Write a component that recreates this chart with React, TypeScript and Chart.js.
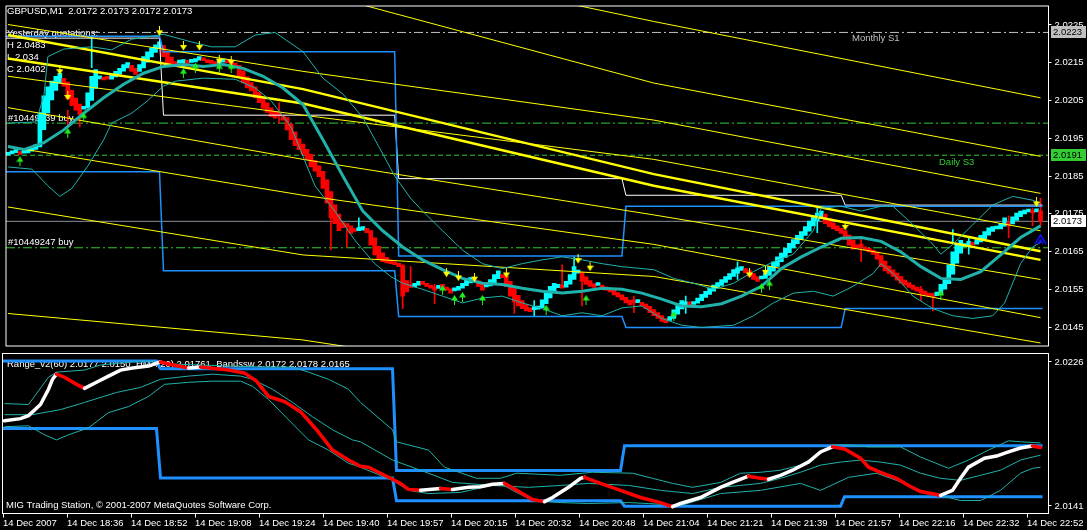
import React, { useEffect, useRef } from 'react';
import { Chart, registerables } from 'chart.js';
Chart.register(...registerables);

// ---------------- data ----------------
const xTickLabels = ['14 Dec 2007', '14 Dec 18:36', '14 Dec 18:52', '14 Dec 19:08', '14 Dec 19:24', '14 Dec 19:40', '14 Dec 19:57', '14 Dec 20:15', '14 Dec 20:32', '14 Dec 20:48', '14 Dec 21:04', '14 Dec 21:21', '14 Dec 21:39', '14 Dec 21:57', '14 Dec 22:16', '14 Dec 22:32', '14 Dec 22:52'];
const mainTickValues = [2.0145, 2.0155, 2.0165, 2.0175, 2.0185, 2.0195, 2.0205, 2.0215, 2.0225];
const lowerTickValues = [2.02215, 2.0145];
const lowerTickLabels = ['2.0226', '2.0141'];

const firstOpen = 2.01905;
const closes = [
  2.01912, 2.01915, 2.01917, 2.01907, 2.01912, 2.0192, 2.01925, 2.01933, 2.02018, 2.02062,
  2.02086, 2.02101, 2.02114, 2.02122, 2.02088, 2.02055, 2.02036, 2.02024, 2.02013, 2.02034,
  2.0207, 2.02114, 2.02132, 2.02109, 2.02104, 2.02106, 2.02119, 2.02127, 2.02135, 2.02145,
  2.0215, 2.02127, 2.02119, 2.02145, 2.02166, 2.02179, 2.02189, 2.02197, 2.02205, 2.02166,
  2.02148, 2.0214, 2.02145, 2.0215, 2.02158, 2.02148, 2.02153, 2.02161, 2.02166, 2.02155,
  2.0215, 2.02148, 2.02145, 2.02155, 2.02158, 2.0215, 2.02145, 2.02137, 2.02114, 2.02096,
  2.02083, 2.02075, 2.02057, 2.02044, 2.02029, 2.02018, 2.02008, 2.02003, 2.02011, 2.01998,
  2.01972, 2.01946, 2.0193, 2.0192, 2.01907, 2.01894, 2.01874, 2.01863, 2.01848, 2.01817,
  2.01778, 2.01739, 2.01724, 2.01705, 2.01713, 2.01716, 2.01698, 2.01703, 2.01708, 2.01716,
  2.017, 2.01667, 2.01641, 2.0163, 2.01623, 2.0162, 2.01618, 2.01615, 2.0161, 2.01532,
  2.01543, 2.01555, 2.01566, 2.01571, 2.01563, 2.01558, 2.01553, 2.01548, 2.01558, 2.01555,
  2.01548, 2.0154, 2.0155, 2.01558, 2.01566, 2.01574, 2.01581, 2.01571, 2.01558, 2.01548,
  2.01561, 2.01576, 2.01589, 2.01599, 2.01581, 2.01558, 2.01532, 2.01517, 2.01506, 2.01499,
  2.01493, 2.01491, 2.01499, 2.01506, 2.01522, 2.01543, 2.01558, 2.01566, 2.01563, 2.01553,
  2.01571, 2.01589, 2.0161, 2.01597, 2.01571, 2.01563, 2.01558, 2.01555, 2.01561, 2.01553,
  2.01548, 2.01543, 2.01535, 2.0153, 2.01522, 2.01514, 2.01509, 2.01514, 2.01517, 2.01506,
  2.01499, 2.01488, 2.0148, 2.01473, 2.01465, 2.01462, 2.01478, 2.01496, 2.01512, 2.0152,
  2.01512, 2.01509, 2.01517, 2.01527, 2.01537, 2.01545, 2.01553, 2.01561, 2.01568, 2.01576,
  2.01584, 2.01592, 2.01602, 2.01607, 2.0161, 2.01594, 2.01584, 2.01576, 2.01571, 2.01581,
  2.01594, 2.0161, 2.01623, 2.01636, 2.01646, 2.01659, 2.01672, 2.01682, 2.01693, 2.01703,
  2.01716, 2.01731, 2.01744, 2.01752, 2.01757, 2.01724, 2.01716, 2.0171, 2.01705, 2.01698,
  2.01682, 2.01667, 2.01656, 2.01659, 2.01662, 2.01654, 2.01649, 2.01643, 2.0163, 2.0161,
  2.01599, 2.01592, 2.01584, 2.01574, 2.01566, 2.01561, 2.01555, 2.0155, 2.01545, 2.0154,
  2.01535, 2.01532, 2.0153, 2.01543, 2.01563, 2.01579, 2.01615, 2.01649, 2.01672, 2.0168,
  2.01669, 2.01677, 2.01667, 2.01682, 2.01693, 2.01703, 2.01713, 2.01716, 2.0171, 2.01724,
  2.01739, 2.01718, 2.01742, 2.01752, 2.01757, 2.0176, 2.01762, 2.01752, 2.0176, 2.0173,
];
const wicks = [
  [15, 2.0198, 2.02024], [18, 2.0198, 2.02029], [21, 2.02137, 2.02217], [68, 2.0199, 2.02044],
  [81, 2.01654, 2.01739], [85, 2.01662, 2.01718], [88, 2.01708, 2.01739], [99, 2.01499, 2.01615],
  [101, 2.01558, 2.0161], [107, 2.01512, 2.01563], [127, 2.01486, 2.01532], [132, 2.0148, 2.0152],
  [139, 2.01558, 2.01615], [142, 2.01584, 2.01636], [144, 2.01506, 2.01571], [157, 2.01488, 2.01532],
  [170, 2.01486, 2.01532], [183, 2.01576, 2.01623], [203, 2.017, 2.0177], [214, 2.01623, 2.01687],
  [229, 2.0152, 2.01558], [232, 2.01493, 2.0154], [237, 2.01675, 2.01708], [241, 2.01643, 2.01687],
  [251, 2.01687, 2.01744], [257, 2.01718, 2.01765], [259, 2.01718, 2.01791],
];

const rangeStarts = [0, 39, 98, 155, 210];
const rangeUpper = [2.0222, 2.02179, 2.01638, 2.0177, 2.0177];
const rangeLower = [2.01861, 2.01599, 2.01478, 2.01449, 2.01499];
const yesterdayLevels = [2.02215, 2.02011, 2.01843, 2.01799, 2.01773];

const bbMiddle = [[0, 2.01928], [4, 2.0192], [9, 2.01938], [14, 2.01972], [19, 2.02016], [24, 2.02057], [29, 2.02093], [34, 2.02122], [39, 2.0214], [44, 2.02145], [49, 2.0214], [54, 2.02145], [59, 2.02135], [64, 2.02114], [69, 2.02083], [74, 2.02039], [79, 2.01946], [84, 2.0185], [89, 2.01757], [94, 2.01705], [99, 2.01662], [104, 2.01628], [109, 2.01602], [114, 2.01579], [119, 2.01566], [124, 2.01563], [129, 2.01553], [134, 2.01545], [139, 2.0154], [144, 2.01545], [149, 2.01553], [154, 2.0155], [159, 2.0154], [164, 2.01524], [169, 2.01506], [174, 2.01504], [179, 2.01512], [184, 2.01532], [189, 2.01558], [194, 2.01605], [199, 2.01636], [204, 2.01662], [209, 2.01685], [214, 2.01687], [219, 2.01677], [224, 2.01649], [229, 2.0161], [234, 2.01579], [239, 2.01576], [244, 2.01597], [249, 2.01641], [254, 2.01687], [259, 2.01718]];
const bbUpper = [[0, 2.0199], [7, 2.01993], [9, 2.02062], [10, 2.02166], [14, 2.02186], [21, 2.02192], [26, 2.02184], [31, 2.02212], [39, 2.02225], [46, 2.02205], [51, 2.02192], [57, 2.02192], [62, 2.02223], [67, 2.0223], [74, 2.02179], [79, 2.02109], [84, 2.02067], [89, 2.02005], [93, 2.01928], [97, 2.0185], [101, 2.01791], [104, 2.01757], [109, 2.01705], [114, 2.01654], [119, 2.01618], [124, 2.01605], [129, 2.01618], [134, 2.01628], [139, 2.01636], [144, 2.01628], [149, 2.01618], [154, 2.0161], [162, 2.01602], [167, 2.01579], [172, 2.01566], [177, 2.0155], [182, 2.01566], [187, 2.01597], [192, 2.01623], [197, 2.01643], [202, 2.01705], [204, 2.01765], [209, 2.0177], [214, 2.01757], [219, 2.0177], [222, 2.0177], [227, 2.01721], [232, 2.01669], [234, 2.01643], [237, 2.01669], [242, 2.01721], [247, 2.01773], [252, 2.01796], [257, 2.01786], [259, 2.01778]];
const bbLower = [[0, 2.01874], [6, 2.01868], [10, 2.01824], [13, 2.01796], [16, 2.01817], [20, 2.01876], [24, 2.01946], [26, 2.0199], [31, 2.02016], [35, 2.02049], [39, 2.02088], [42, 2.02101], [49, 2.02109], [57, 2.02106], [62, 2.02083], [66, 2.02049], [71, 2.0198], [74, 2.01902], [77, 2.01824], [82, 2.01757], [87, 2.0168], [92, 2.01618], [96, 2.01584], [99, 2.01566], [104, 2.0155], [109, 2.01532], [114, 2.01514], [119, 2.01527], [124, 2.01532], [129, 2.01514], [134, 2.01499], [139, 2.0148], [144, 2.01488], [149, 2.0148], [154, 2.01501], [159, 2.01506], [164, 2.01473], [169, 2.01455], [174, 2.01449], [182, 2.01455], [187, 2.0148], [192, 2.01514], [197, 2.0154], [202, 2.01545], [207, 2.01532], [212, 2.01558], [217, 2.01592], [219, 2.01618], [222, 2.01592], [227, 2.01532], [232, 2.01499], [237, 2.0148], [242, 2.01473], [247, 2.0148], [250, 2.01514], [254, 2.01618], [257, 2.01662], [259, 2.01674]];

const yellowA = [[134, 2.02321], [162, 2.02259], [259, 2.02057]];
const yellowB = [[61, 2.02373], [90, 2.023], [162, 2.02096], [259, 2.01902]];
const yellowC = [[0, 2.02251], [74, 2.02127], [162, 2.01998], [259, 2.01804]];
const yellowD = [[0, 2.02114], [74, 2.02011], [162, 2.01894], [259, 2.01705]];
const yellowE = [[0, 2.02031], [74, 2.01894], [162, 2.01747], [259, 2.01576]];
const yellowF = [[0, 2.01928], [74, 2.01799], [162, 2.01669], [259, 2.01475]];
const yellowG = [[0, 2.01768], [74, 2.01641], [162, 2.01584], [259, 2.01408]];
const yellowH = [[0, 2.01486], [74, 2.01416], [162, 2.01274]];
const yellowThick1 = [[0, 2.02223], [74, 2.0208], [162, 2.01855], [259, 2.01651]];
const yellowThick2 = [[0, 2.02161], [74, 2.02042], [162, 2.01824], [259, 2.01628]];

const downArrows = [[13, 2.0213], [15, 2.02062], [38, 2.02233], [44, 2.02194], [48, 2.02194], [53, 2.02158], [56, 2.02155], [110, 2.01594], [113, 2.01584], [117, 2.01581], [125, 2.01592], [143, 2.0163], [146, 2.0161], [186, 2.01592], [190, 2.01599], [210, 2.01718], [258, 2.0178]];
const upArrows = [[3, 2.01889], [15, 2.01964], [19, 2.02005], [44, 2.02122], [47, 2.02137], [53, 2.02135], [56, 2.02135], [109, 2.01548], [112, 2.01522], [114, 2.0153], [119, 2.01522], [135, 2.01496], [145, 2.01522], [167, 2.0148], [189, 2.01553], [191, 2.01561], [234, 2.01535]];
const blueSignal = [[259, 2.01682]];

const monthlyS1 = 2.0223;
const order1 = 2.0199;
const dailyS3 = 2.01905;
const bidPrice = 2.0173;
const order2 = 2.0166;

const hma = [[0, 2.01903], [4, 2.01914], [6, 2.0193], [9, 2.01989], [11, 2.0207], [12, 2.02123], [13, 2.0215], [15, 2.02134], [18, 2.02096], [20, 2.02075], [23, 2.02107], [26, 2.0214], [29, 2.02172], [32, 2.02183], [36, 2.02193], [39, 2.02215], [41, 2.02204], [46, 2.02183], [49, 2.02188], [56, 2.02172], [60, 2.02156], [63, 2.02113], [66, 2.02032], [70, 2.02005], [74, 2.01951], [78, 2.01855], [82, 2.01747], [86, 2.01694], [89, 2.01661], [91, 2.01656], [94, 2.01624], [97, 2.01592], [99, 2.0157], [101, 2.01538], [104, 2.01533], [109, 2.01543], [112, 2.01538], [116, 2.01549], [119, 2.01552], [122, 2.01565], [125, 2.0157], [129, 2.01522], [132, 2.01484], [135, 2.01473], [137, 2.01495], [141, 2.01549], [144, 2.01597], [145, 2.01602], [149, 2.0157], [154, 2.01533], [159, 2.01495], [164, 2.01468], [167, 2.01446], [169, 2.01463], [174, 2.01495], [179, 2.01549], [182, 2.01575], [186, 2.01608], [189, 2.01597], [191, 2.01592], [194, 2.01613], [197, 2.0164], [201, 2.01683], [204, 2.01737], [207, 2.01764], [210, 2.01753], [214, 2.01704], [216, 2.01656], [219, 2.01629], [223, 2.01597], [226, 2.01559], [229, 2.01527], [233, 2.01511], [234, 2.01506], [237, 2.01533], [239, 2.01597], [241, 2.01656], [245, 2.01704], [248, 2.01715], [251, 2.01737], [254, 2.01758], [257, 2.01769], [259, 2.01761]];
const bandsUp = [[0, 2.01994], [6, 2.01989], [11, 2.02134], [13, 2.02161], [20, 2.02172], [24, 2.02199], [29, 2.02209], [34, 2.0222], [39, 2.02215], [42, 2.02204], [49, 2.02199], [57, 2.02193], [66, 2.02188], [72, 2.02188], [76, 2.02161], [81, 2.02123], [86, 2.0207], [89, 2.02], [97, 2.01855], [98, 2.01791], [106, 2.01747], [110, 2.01656], [118, 2.01597], [124, 2.01597], [128, 2.01624], [139, 2.01613], [147, 2.01629], [157, 2.01624], [162, 2.01597], [167, 2.0157], [172, 2.01549], [179, 2.01575], [184, 2.01624], [189, 2.01629], [194, 2.0164], [199, 2.01667], [204, 2.01731], [207, 2.01774], [211, 2.01774], [216, 2.01764], [224, 2.01764], [229, 2.0171], [236, 2.0165], [241, 2.01694], [246, 2.01747], [251, 2.01796], [254, 2.01791], [259, 2.01785]];
const bandsMid = [[0, 2.01935], [7, 2.01935], [14, 2.01962], [20, 2.02], [28, 2.02053], [34, 2.0208], [39, 2.02123], [46, 2.0214], [52, 2.0215], [59, 2.0214], [62, 2.02123], [67, 2.0207], [72, 2.02], [77, 2.01924], [82, 2.01855], [87, 2.01801], [89, 2.01791], [97, 2.01694], [106, 2.01624], [112, 2.01575], [122, 2.01559], [131, 2.01549], [139, 2.01559], [146, 2.0157], [156, 2.01559], [164, 2.01533], [172, 2.01516], [179, 2.01549], [184, 2.01559], [189, 2.0157], [194, 2.01597], [199, 2.01629], [204, 2.01667], [209, 2.01683], [214, 2.01694], [219, 2.01683], [224, 2.01667], [229, 2.01624], [234, 2.01597], [239, 2.01586], [244, 2.01613], [249, 2.0164], [254, 2.01694], [259, 2.0172]];
const bandsLow = [[0, 2.01871], [6, 2.01876], [10, 2.01828], [13, 2.01801], [16, 2.01828], [21, 2.01865], [26, 2.01946], [31, 2.01978], [36, 2.02032], [40, 2.02096], [46, 2.02107], [52, 2.02113], [59, 2.02113], [62, 2.02086], [66, 2.02016], [71, 2.01908], [76, 2.01801], [81, 2.01747], [86, 2.01677], [89, 2.01656], [97, 2.01586], [101, 2.01533], [106, 2.01516], [114, 2.01522], [124, 2.0157], [127, 2.01533], [132, 2.01479], [139, 2.01468], [146, 2.01463], [156, 2.01468], [161, 2.01463], [169, 2.01452], [179, 2.01516], [189, 2.01533], [199, 2.0157], [204, 2.01533], [211, 2.01602], [218, 2.01624], [223, 2.01586], [229, 2.01533], [239, 2.01479], [244, 2.01479], [249, 2.01533], [254, 2.01624], [257, 2.0165], [259, 2.01656]];

// ---------------- styles ----------------
const FAMILY = "'Liberation Sans', Arial, sans-serif";
const FONT_OPT = { family: FAMILY, size: 9.5 };
const FONT = `9.5px ${FAMILY}`;
const CYAN = '#00FFFF';
const RED = '#FF0000';
const TEAL = '#20B2AA';
const BLUE = '#1E90FF';
const YELLOW = '#FFFF00';
const GREEN = '#33cc33';
const X_MIN = -0.5;
const X_MAX = 261;
const LAST_BAR = 259;

const pts = (arr: number[][]) => arr.map(([x, y]) => ({ x, y }));
const steps = (levels: number[]) => {
  const out: any[] = [];
  levels.forEach((v, k) => {
    const s = k === 0 ? X_MIN : rangeStarts[k];
    const e = k + 1 < rangeStarts.length ? rangeStarts[k + 1] - 1 : LAST_BAR + 0.5;
    out.push({ x: s, y: v }, { x: e, y: v });
  });
  return out;
};
const line = (data: any[], color: string, width: number, order: number, extra: any = {}) => ({
  type: 'line', data, borderColor: color, borderWidth: width, pointRadius: 0, tension: 0,
  fill: false, order, ...extra,
});
const level = (v: number, color: string, dash: number[], order: number) =>
  line([{ x: X_MIN, y: v }, { x: X_MAX, y: v }], color, 1, order, { borderDash: dash });

function makeArrow(color: string, down: boolean) {
  const c = document.createElement('canvas');
  c.width = 7; c.height = 10;
  const g = c.getContext('2d') as CanvasRenderingContext2D;
  g.fillStyle = color;
  g.beginPath();
  if (down) {
    g.fillRect(3, 0, 1, 5);
    g.moveTo(0, 4); g.lineTo(7, 4); g.lineTo(3.5, 9.5);
  } else {
    g.fillRect(3, 5, 1, 5);
    g.moveTo(0, 5.5); g.lineTo(7, 5.5); g.lineTo(3.5, 0);
  }
  g.closePath(); g.fill();
  return c;
}
function makeChevron() {
  const c = document.createElement('canvas');
  c.width = 13; c.height = 11;
  const g = c.getContext('2d') as CanvasRenderingContext2D;
  g.strokeStyle = '#1010ff'; g.lineWidth = 1.5;
  g.beginPath(); g.moveTo(1, 10); g.lineTo(6.5, 1); g.lineTo(12, 10); g.stroke();
  g.beginPath(); g.moveTo(4, 10); g.lineTo(6.5, 6); g.lineTo(9, 10); g.stroke();
  return c;
}

const fmt = (v: number) => v.toFixed(4);

export default function App() {
  const topRef = useRef<HTMLCanvasElement>(null);
  const botRef = useRef<HTMLCanvasElement>(null);

  useEffect(() => {
    // Heiken Ashi style open: midpoint of the previous bar's open and close
    const opens: number[] = [];
    closes.forEach((c, i) => {
      opens.push(i === 0 ? firstOpen : (opens[i - 1] + closes[i - 1]) / 2);
    });
    const bodyColors = closes.map((c, i) => (c >= opens[i] ? CYAN : RED));
    const bodies = closes.map((c, i) => ({ x: i, y: [opens[i], c] }));
    const wickData = wicks.map(([i, lo, hi]) => ({ x: i, y: [lo, hi] }));
    const wickColors = wicks.map(([i]) => bodyColors[i]);

    const topDecor = {
      id: 'topDecor',
      beforeDatasetsDraw(chart: any) {
        const { ctx } = chart;
        const y = chart.scales.y;
        ctx.save();
        ctx.font = FONT;
        ctx.textBaseline = 'middle';
        ctx.fillStyle = '#ffffff';
        ctx.fillText('GBPUSD,M1  2.0172 2.0173 2.0172 2.0173', 7, 11);
        ctx.fillText('Yesterday quotations:', 7, 33);
        ctx.fillText('H 2.0483', 7, 45);
        ctx.fillText('L 2.034', 7, 57);
        ctx.fillText('C 2.0402', 7, 69);
        ctx.fillText('#10449139 buy', 8, y.getPixelForValue(order1) - 5);
        ctx.fillText('#10449247 buy', 8, y.getPixelForValue(order2) - 5);
        ctx.fillStyle = '#c0c0c0';
        ctx.fillText('Monthly S1', 852, y.getPixelForValue(monthlyS1) + 6);
        ctx.fillStyle = GREEN;
        ctx.fillText('Daily S3', 939, y.getPixelForValue(dailyS3) + 7);
        ctx.restore();
      },
      afterDraw(chart: any) {
        const { ctx, chartArea: a } = chart;
        const y = chart.scales.y;
        ctx.save();
        ctx.strokeStyle = '#ffffff';
        ctx.lineWidth = 1;
        ctx.strokeRect(a.left, a.top, a.right - a.left, a.bottom - a.top);
        ctx.font = FONT;
        ctx.textBaseline = 'middle';
        const boxes: [number, string][] = [[monthlyS1, '#c0c0c0'], [dailyS3, GREEN], [bidPrice, '#ffffff']];
        boxes.forEach(([v, bg]) => {
          const py = Math.round(y.getPixelForValue(v));
          ctx.fillStyle = bg;
          ctx.fillRect(1051, py - 6, 35, 12);
          ctx.fillStyle = '#000000';
          ctx.fillText(fmt(v), 1053, py + 0.5);
        });
        ctx.restore();
      },
    };

    const top = new Chart(topRef.current as HTMLCanvasElement, {
      type: 'bar',
      data: {
        datasets: [
          { type: 'line', data: pts(downArrows), showLine: false, pointStyle: makeArrow(YELLOW, true), pointRadius: 5, order: 0 },
          { type: 'line', data: pts(upArrows), showLine: false, pointStyle: makeArrow('#22ee22', false), pointRadius: 5, order: 0 },
          { type: 'line', data: pts(blueSignal), showLine: false, pointStyle: makeChevron(), pointRadius: 5, order: 0 },
          line(pts(bbMiddle), TEAL, 3, 1),
          line(pts(bbUpper), TEAL, 1, 2),
          line(pts(bbLower), TEAL, 1, 2),
          line(pts(yellowThick1), YELLOW, 2.5, 3),
          line(pts(yellowThick2), YELLOW, 2.5, 3),
          line(pts(yellowA), YELLOW, 1, 4),
          line(pts(yellowB), YELLOW, 1, 4),
          line(pts(yellowC), YELLOW, 1, 4),
          line(pts(yellowD), YELLOW, 1, 4),
          line(pts(yellowE), YELLOW, 1, 4),
          line(pts(yellowF), YELLOW, 1, 4),
          line(pts(yellowG), YELLOW, 1, 4),
          line(pts(yellowH), YELLOW, 1, 4),
          line(steps(rangeUpper), BLUE, 1.5, 5),
          line(steps(rangeLower), BLUE, 1.5, 5),
          line(steps(yesterdayLevels), '#ffffff', 1, 5),
          { type: 'bar', data: bodies, backgroundColor: bodyColors, borderWidth: 0, barPercentage: 1, categoryPercentage: 1, grouped: false, minBarLength: 3, order: 6 },
          { type: 'bar', data: wickData, backgroundColor: wickColors, borderWidth: 0, barThickness: 1, grouped: false, order: 7 },
          level(monthlyS1, '#c0c0c0', [9, 3, 2, 3], 8),
          level(order1, GREEN, [9, 3, 2, 3], 8),
          level(dailyS3, GREEN, [5, 3], 8),
          level(bidPrice, '#8a8f99', [], 8),
          level(order2, GREEN, [9, 3, 2, 3], 8),
        ] as any,
      },
      options: {
        responsive: false,
        animation: false,
        devicePixelRatio: 1,
        layout: { padding: { left: 2.5, top: 2.5, right: 0, bottom: 0.5 } },
        plugins: { legend: { display: false }, tooltip: { enabled: false } },
        scales: {
          x: { type: 'linear', min: X_MIN, max: X_MAX, display: false, offset: false },
          y: {
            type: 'linear', position: 'right', min: 2.014, max: 2.023,
            afterBuildTicks: (s: any) => { s.ticks = mainTickValues.map((v) => ({ value: v })); },
            afterFit: (s: any) => { s.width = 38.5; s.paddingTop = 0; s.paddingBottom = 0; },
            ticks: { color: '#ffffff', font: FONT_OPT, padding: 3, callback: (v: any) => fmt(Number(v)) },
            grid: { drawOnChartArea: false, color: '#ffffff', tickLength: 3 },
            border: { display: false },
          },
        },
      } as any,
      plugins: [topDecor],
    });

    const botDecor = {
      id: 'botDecor',
      beforeDatasetsDraw(chart: any) {
        const { ctx } = chart;
        ctx.save();
        ctx.font = FONT;
        ctx.textBaseline = 'middle';
        ctx.fillStyle = '#ffffff';
        ctx.fillText('Range_v2(60) 2.0177 2.0150  HMA(20) 2.01761  Bandssw 2.0172 2.0178 2.0165', 7, 12);
        ctx.fillText('MIG Trading Station, \u00A9 2001-2007 MetaQuotes Software Corp.', 6, 153);
        ctx.restore();
      },
      afterDraw(chart: any) {
        const { ctx, chartArea: a } = chart;
        ctx.save();
        ctx.strokeStyle = '#ffffff';
        ctx.lineWidth = 1;
        ctx.strokeRect(a.left, a.top, a.right - a.left, a.bottom - a.top);
        ctx.restore();
      },
    };

    const bot = new Chart(botRef.current as HTMLCanvasElement, {
      type: 'line',
      data: {
        datasets: [
          line(pts(hma), '#ffffff', 3.5, 0, {
            segment: { borderColor: (c: any) => (c.p1.parsed.y < c.p0.parsed.y ? RED : '#ffffff') },
            borderCapStyle: 'round',
          }),
          line(pts(bandsUp), TEAL, 1, 1),
          line(pts(bandsMid), TEAL, 1, 1),
          line(pts(bandsLow), TEAL, 1, 1),
          line(steps(rangeUpper), BLUE, 3, 2),
          line(steps(rangeLower), BLUE, 3, 2),
        ] as any,
      },
      options: {
        responsive: false,
        animation: false,
        devicePixelRatio: 1,
        layout: { padding: { left: 2.5, top: 1.5, right: 0, bottom: 0 } },
        plugins: { legend: { display: false }, tooltip: { enabled: false } },
        scales: {
          x: {
            type: 'linear', min: X_MIN, max: X_MAX, offset: false,
            afterBuildTicks: (s: any) => { s.ticks = xTickLabels.map((_, k) => ({ value: k * 16 - 0.375 })); },
            afterFit: (s: any) => { s.height = 16.5; s.paddingLeft = 0; s.paddingRight = 0; },
            ticks: {
              color: '#ffffff', font: FONT_OPT, align: 'start', padding: 0, autoSkip: false,
              maxRotation: 0, minRotation: 0, callback: (_v: any, i: number) => xTickLabels[i],
            },
            grid: { drawOnChartArea: false, color: '#ffffff', tickLength: 4 },
            border: { display: false },
          },
          y: {
            type: 'linear', position: 'right', min: 2.0141, max: 2.0226,
            afterBuildTicks: (s: any) => { s.ticks = lowerTickValues.map((v) => ({ value: v })); },
            afterFit: (s: any) => { s.width = 38.5; s.paddingTop = 0; s.paddingBottom = 0; },
            ticks: { color: '#ffffff', font: FONT_OPT, padding: 3, callback: (_v: any, i: number) => lowerTickLabels[i] },
            grid: { drawOnChartArea: false, color: '#ffffff', tickLength: 3 },
            border: { display: false },
          },
        },
      } as any,
      plugins: [botDecor],
    });

    return () => { top.destroy(); bot.destroy(); };
  }, []);

  return (
    <div style={{ position: 'fixed', left: 0, top: 0, width: 1087, height: 530, background: '#000', overflow: 'hidden' }}>
      <canvas ref={topRef} width={1087} height={352} style={{ position: 'absolute', left: 0, top: 0, width: 1087, height: 352 }} />
      <canvas ref={botRef} width={1087} height={178} style={{ position: 'absolute', left: 0, top: 352, width: 1087, height: 178 }} />
    </div>
  );
}
